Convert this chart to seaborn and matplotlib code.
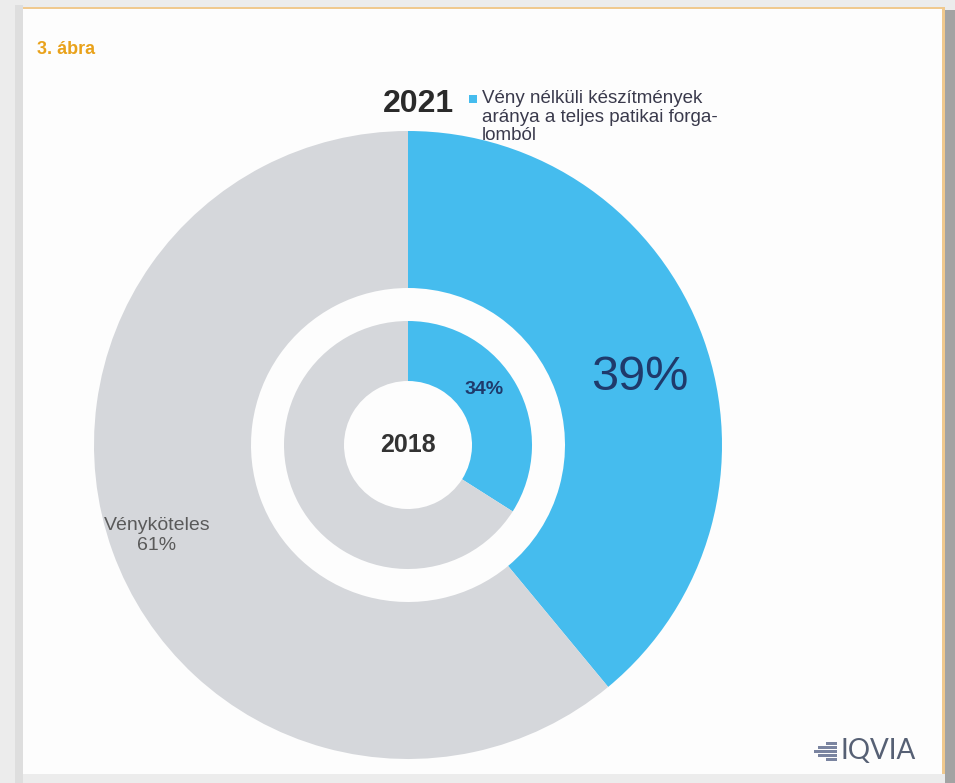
import numpy as np
import matplotlib
matplotlib.use("Agg")
import matplotlib.pyplot as plt
from matplotlib.patches import Rectangle
import seaborn as sns

# ---- data ----
categories = ["Vény nélküli készítmények", "Vényköteles"]
share_2021 = [39, 61]
share_2018 = [34, 66]
year_outer = "2021"
year_inner = "2018"
title_text = "3. ábra"
legend_text = "Vény nélküli készítmények\naránya a teljes patikai forga-\nlomból"
other_label = "Vényköteles"

sns.set_theme(style="white")
plt.rcParams["font.family"] = ["Liberation Sans", "DejaVu Sans"]

BLUE = "#45bcee"
GRAY = "#d5d7db"
NAVY = "#1f3a6b"

W, H = 955, 783
fig = plt.figure(figsize=(W / 100, H / 100), dpi=100)
fig.patch.set_facecolor("#ececec")


def fx(x):
    return x / W


def fy(y):
    return 1 - y / H


def frame_rect(x0, y0, x1, y1, color):
    fig.add_artist(Rectangle((fx(x0), fy(y1)), fx(x1 - x0), fy(y0) - fy(y1),
                             transform=fig.transFigure, facecolor=color,
                             edgecolor="none", zorder=-10))


# frame / panel
frame_rect(945, 10, 955, 783, "#a3a3a3")
frame_rect(15, 5, 23, 783, "#dedede")
frame_rect(23, 7, 945, 774, "#fdfdfd")
frame_rect(23, 7, 945, 9, "#f0c98e")
frame_rect(942, 7, 945, 774, "#f0c98e")

# ---- donut axes (centre 408,445 ; radius 314 px) ----
cx, cy, R = 408, 445, 314
ax = fig.add_axes([fx(cx - R), fy(cy + R), fx(2 * R), fy(cy - R) - fy(cy + R)])
ax.set_facecolor("none")
ax.pie(share_2021, radius=1.0, startangle=90, counterclock=False,
       colors=[BLUE, GRAY], wedgeprops=dict(width=0.5, edgecolor="none"))
r_in = 124 / R
w_in = (124 - 64) / R
ax.pie(share_2018, radius=r_in, startangle=90, counterclock=False,
       colors=[BLUE, GRAY], wedgeprops=dict(width=w_in, edgecolor="none"))
ax.set_xlim(-1, 1)
ax.set_ylim(-1, 1)
ax.set_aspect("equal")
ax.axis("off")


def polar(frac_mid, r):
    ang = np.deg2rad(90 - 360 * frac_mid)
    return r * np.cos(ang), r * np.sin(ang)


# 39% label
x, y = polar(share_2021[0] / 200 + 0.01, 0.77)
ax.text(x, y, f"{share_2021[0]}%", ha="center", va="center", fontsize=35,
        color=NAVY)
# 34% label
x, y = polar(share_2018[0] / 200 - 0.02, 0.30)
ax.text(x, y, f"{share_2018[0]}%", ha="center", va="center", fontsize=14,
        fontweight="bold", color=NAVY)
# Vényköteles 61%
x, y = polar(share_2021[0] / 100 + share_2021[1] * 0.5 / 100, 0.85)
ax.text(x, y, f"{other_label}\n{share_2021[1]}%", ha="center", va="center",
        fontsize=14, color="#5a5a5a", linespacing=1.2)
# centre year
ax.text(0, 0, year_inner, ha="center", va="center", fontsize=18,
        fontweight="bold", color="#333333")

# year 2021 and legend
fig.text(fx(418), fy(104), year_outer, ha="center", va="center", fontsize=23,
         fontweight="bold", color="#2a2a2a")
fig.add_artist(Rectangle((fx(469), fy(103)), fx(8), fy(95) - fy(103),
                         transform=fig.transFigure, facecolor=BLUE, edgecolor="none"))
fig.text(fx(482), fy(90), legend_text, ha="left", va="top", fontsize=13.5,
         color="#3a3a4c", linespacing=1.12)

# title
fig.text(fx(37), fy(49), title_text, ha="left", va="center", fontsize=13,
         fontweight="bold", color="#e9a21b")

# IQVIA logo
for i, (x0, x1) in enumerate([(826, 837), (818, 837), (814, 837), (818, 837), (826, 837)]):
    yt = 742 + i * 4
    fig.add_artist(Rectangle((fx(x0), fy(yt + 3)), fx(x1 - x0), fy(yt) - fy(yt + 3),
                             transform=fig.transFigure, facecolor="#7a84a0",
                             edgecolor="none"))
fig.text(fx(840), fy(751), "IQVIA", ha="left", va="center", fontsize=20,
         color="#566074", family=["Lato", "DejaVu Sans"])

fig.savefig("out.png", dpi=100, facecolor=fig.get_facecolor())
